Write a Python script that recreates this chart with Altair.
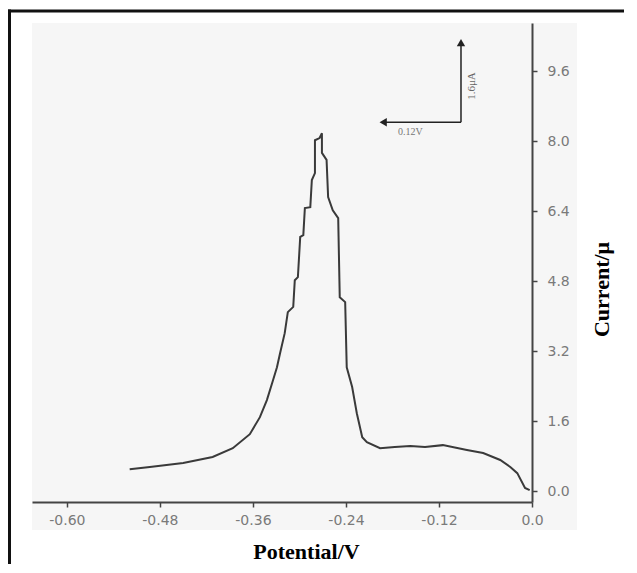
import altair as alt
import pandas as pd

# Voltammogram trace (potential in V, current in µA)
potential = [-0.519, -0.493, -0.450, -0.412, -0.386, -0.364, -0.351, -0.342, -0.334, -0.329,
             -0.325, -0.319, -0.315, -0.308, -0.306, -0.302, -0.299, -0.295, -0.293, -0.286,
             -0.284, -0.280, -0.280, -0.274, -0.271, -0.271, -0.265, -0.263, -0.257, -0.250,
             -0.248, -0.241, -0.239, -0.232, -0.226, -0.219, -0.213, -0.196, -0.177, -0.157,
             -0.138, -0.115, -0.084, -0.063, -0.041, -0.028, -0.019, -0.009, -0.003]
current = [0.50, 0.55, 0.64, 0.78, 0.98, 1.30, 1.69, 2.08, 2.54, 2.83,
           3.15, 3.61, 4.09, 4.21, 4.82, 4.89, 5.81, 5.85, 6.47, 6.49,
           7.11, 7.27, 8.02, 8.07, 8.18, 7.73, 7.57, 6.72, 6.42, 6.24,
           4.43, 4.32, 2.83, 2.38, 1.78, 1.23, 1.12, 0.98, 1.01, 1.03,
           1.01, 1.05, 0.94, 0.87, 0.71, 0.55, 0.41, 0.07, 0.02]

x_ticks = [-0.60, -0.48, -0.36, -0.24, -0.12, 0.0]
y_ticks = [0.0, 1.6, 3.2, 4.8, 6.4, 8.0, 9.6]

# scale-bar annotation (data coordinates)
bar_corner = (-0.0916, 8.43)
bar_top = 10.25
bar_left = -0.192
bar_labels = ["0.12V", "1.6μA"]
bar_label_x = [-0.157, -0.0774]
bar_label_y = [8.20, 9.26]

df = pd.DataFrame({"V": potential, "I": current, "i": list(range(len(potential)))})

xs = alt.Scale(domain=[-0.645, 0.0], nice=False, zero=False)
ys = alt.Scale(domain=[-0.25, 10.70], nice=False, zero=False)

xaxis = alt.Axis(values=x_ticks, title="Potential/V", orient="bottom", zindex=1,
                 labelFlush=False,
                 labelExpr="datum.value == 0 ? '0.0' : '-' + format(abs(datum.value), '.2f')",
                 titleX=274, titleY=56, titleBaseline="alphabetic", titleAlign="center")
yaxis = alt.Axis(values=y_ticks, title="Current/μ", orient="right", zindex=1,
                 labelFlush=False,
                 labelExpr="format(datum.value, '.1f')",
                 titleAngle=270, titleX=69, titleY=266, titleBaseline="middle",
                 titleAlign="center")

X = lambda f: alt.X(f, scale=xs, axis=xaxis)
Y = lambda f: alt.Y(f, scale=ys, axis=yaxis)

one = pd.DataFrame({"a": [0]})

# grey paper extending past the plot (right of y axis, below x axis)
bg_right = alt.Chart(one).mark_rect(color="#f6f6f6").encode(
    x=alt.value(500), x2=alt.value(545), y=alt.value(0), y2=alt.value(507))
bg_bottom = alt.Chart(one).mark_rect(color="#f6f6f6").encode(
    x=alt.value(0), x2=alt.value(545), y=alt.value(479), y2=alt.value(507))

frame_top = alt.Chart(one).mark_rule(color="#111111", strokeWidth=3).encode(
    x=alt.value(-24), x2=alt.value(604), y=alt.value(-12))
frame_left = alt.Chart(one).mark_rule(color="#111111", strokeWidth=3).encode(
    x=alt.value(-22.5), y=alt.value(-13.5), y2=alt.value(549))

line = alt.Chart(df).mark_line(color="#3a3a3a", strokeWidth=2).encode(
    x=X("V:Q"), y=Y("I:Q"), order=alt.Order("i:Q"))

ann = pd.DataFrame({"x": [bar_corner[0]], "y": [bar_corner[1]],
                    "ytop": [bar_top], "xleft": [bar_left]})
vrule = alt.Chart(ann).mark_rule(color="#222222", strokeWidth=1.5).encode(
    x=X("x:Q"), y=Y("y:Q"), y2="ytop:Q")
hrule = alt.Chart(ann).mark_rule(color="#222222", strokeWidth=1.5).encode(
    x=X("x:Q"), x2="xleft:Q", y=Y("y:Q"))
uphead = alt.Chart(ann).mark_point(shape="triangle-up", filled=True, color="#222222",
                                   size=70, opacity=1).encode(x=X("x:Q"), y=Y("ytop:Q"))
lefthead = alt.Chart(ann).mark_point(shape="triangle-left", filled=True, color="#222222",
                                     size=70, opacity=1).encode(x=X("xleft:Q"), y=Y("y:Q"))

lab_df = pd.DataFrame({"t": bar_labels, "x": bar_label_x, "y": bar_label_y})
lab1 = alt.Chart(lab_df.iloc[[0]]).mark_text(font="Liberation Serif", fontSize=10,
                                            color="#777777").encode(
    x=X("x:Q"), y=Y("y:Q"), text="t:N")
lab2 = alt.Chart(lab_df.iloc[[1]]).mark_text(font="Liberation Serif", fontSize=11,
                                            color="#666666", angle=270).encode(
    x=X("x:Q"), y=Y("y:Q"), text="t:N")

chart = alt.layer(bg_right, bg_bottom, line, vrule, hrule, uphead, lefthead, lab1, lab2,
                  frame_top, frame_left).properties(
    width=500, height=479,
    autosize=alt.AutoSizeParams(type="none"),
    padding={"left": 24, "top": 15, "right": 92, "bottom": 62},
    background="white",
).configure_view(stroke=None, fill="#f6f6f6").configure_axis(
    domainColor="#444444", domainWidth=2, tickColor="#444444", tickWidth=1.5, tickSize=5,
    grid=False, labelFont="DejaVu Sans", labelFontSize=14, labelColor="#7a7a7a",
    titleFont="Liberation Serif", titleFontSize=22, titleFontWeight="bold", titleColor="#000000",
).configure_axisX(labelPadding=6).configure_axisY(labelPadding=10, labelAlign="left")

chart.save("out.html", embed_options={"renderer": "svg", "actions": False})
